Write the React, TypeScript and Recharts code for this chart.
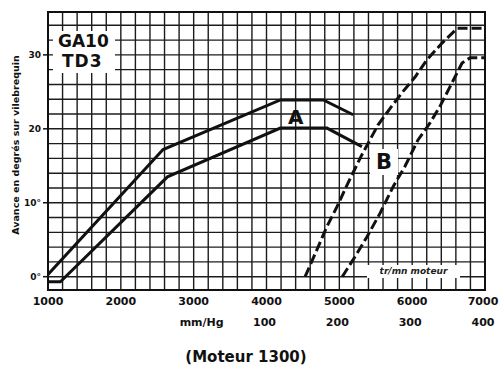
import { LineChart, Line, XAxis, YAxis, CartesianGrid, ReferenceArea } from 'recharts'

// courbe A (trait plein, haut) : tr/mn moteur -> degrés
const curveARpm = [1000, 2580, 4190, 4780, 5190]
const curveADeg = [0.3, 17.2, 23.9, 23.9, 21.9]

// courbe A (trait plein, bas)
const curveA2Rpm = [1000, 1170, 2640, 4190, 4830, 5310]
const curveA2Deg = [-0.7, -0.7, 13.5, 20.1, 20.1, 17.6]

// courbe B (tirets, gauche)
const curveBRpm = [4530, 4690, 4830, 4970, 5120, 5310, 5530, 5700, 5870, 6040, 6200, 6410, 6620, 7000]
const curveBDeg = [0, 3.6, 6.8, 9.5, 12.7, 16.5, 20.5, 22.8, 25, 27, 29.3, 31.6, 33.6, 33.6]

// courbe B (tirets, droite)
const curveB2Rpm = [5040, 5215, 5380, 5560, 5740, 5900, 6080, 6245, 6380, 6520, 6685, 6795, 7000]
const curveB2Deg = [0, 2.7, 5.4, 8.6, 12.2, 14.9, 18.5, 20.8, 23, 25.7, 28.9, 29.6, 29.6]

const gridRpm = Array.from({ length: 31 }, (_, i) => 1000 + i * 200)
const gridDeg = Array.from({ length: 18 }, (_, i) => i * 2)

const rpmLabels: Record<number, string> = { 1000: '1000', 2000: '2000', 3000: '3000', 4000: '4000', 5000: '5000', 6000: '6000', 7000: '7000' }
const vacuumLabels: Record<number, string> = { 3000: 'mm/Hg', 4000: '100', 5000: '200', 6000: '300', 7000: '400' }
const degLabels: Record<number, string> = { 0: '0°', 10: '10°', 20: '20', 30: '30' }

const toRows = (xs: number[], ys: number[]) => xs.map((rpm, i) => ({ rpm, deg: ys[i] }))

const FONT = '"DejaVu Sans", sans-serif'

const XTick = ({ x, y, payload }: any) => {
  const v = payload.value
  const top = rpmLabels[v]
  const bottom = vacuumLabels[v]
  if (!top && !bottom) return null
  return (
    <g>
      {top && (
        <text x={v === 7000 ? x - 2 : x} y={y + 15} textAnchor="middle" fontSize={11} fontWeight="bold" fill="#111" fontFamily={FONT}>
          {top}
        </text>
      )}
      {bottom && (
        <text x={v === 3000 ? x + 8 : x - 2} y={y + 36} textAnchor="middle" fontSize={11} fontWeight="bold" fill="#111" fontFamily={FONT}>
          {bottom}
        </text>
      )}
    </g>
  )
}

const YTick = ({ x, y, payload }: any) => {
  const label = degLabels[payload.value]
  if (!label) return null
  return (
    <g>
      <line x1={x - 5} x2={x} y1={y} y2={y} stroke="#111" strokeWidth={1.5} />
      <text x={x - 7} y={y + 3.5} textAnchor="end" fontSize={9} fontWeight="bold" fill="#111" fontFamily={FONT}>
        {label}
      </text>
    </g>
  )
}

export default function App() {
  return (
    <div style={{ position: 'absolute', left: 0, top: 0, width: 499, height: 369, background: '#fff', fontFamily: FONT }}>
      <LineChart width={499} height={369} margin={{ top: 12, right: 14, left: 0, bottom: 0 }}>
        <CartesianGrid stroke="#1c1c1c" strokeWidth={1.4} />
        <XAxis
          dataKey="rpm" type="number" domain={[1000, 7000]} ticks={gridRpm}
          height={79} tick={<XTick />} tickLine={false} tickSize={0} tickMargin={0}
          axisLine={false} interval={0} allowDataOverflow
        />
        <YAxis
          dataKey="deg" type="number" domain={[-1.8, 35.8]} ticks={gridDeg}
          width={48} tick={<YTick />} tickLine={false} tickSize={0} tickMargin={0}
          axisLine={false} interval={0} allowDataOverflow
        />
        <ReferenceArea x1={1000} x2={7000} y1={-1.8} y2={35.8} fill="none" stroke="#111" strokeWidth={2} ifOverflow="visible" />
        <Line data={toRows(curveARpm, curveADeg)} dataKey="deg" type="linear" stroke="#111" strokeWidth={3} dot={false} isAnimationActive={false} />
        <Line data={toRows(curveA2Rpm, curveA2Deg)} dataKey="deg" type="linear" stroke="#111" strokeWidth={3} dot={false} isAnimationActive={false} />
        <Line data={toRows(curveBRpm, curveBDeg)} dataKey="deg" type="linear" stroke="#111" strokeWidth={3} strokeDasharray="10 4" dot={false} isAnimationActive={false} />
        <Line data={toRows(curveB2Rpm, curveB2Deg)} dataKey="deg" type="linear" stroke="#111" strokeWidth={3} strokeDasharray="10 4" dot={false} isAnimationActive={false} />
      </LineChart>

      <div style={{ position: 'absolute', left: 53, top: 31, width: 62, height: 42, background: '#fff', fontWeight: 'bold', fontSize: 17, lineHeight: '20px', color: '#111', paddingLeft: 5, boxSizing: 'border-box' }}>
        <div>GA10</div>
        <div style={{ paddingLeft: 4, letterSpacing: 1 }}>TD3</div>
      </div>

      <div style={{ position: 'absolute', left: 288, top: 106, fontWeight: 'bold', fontSize: 20, lineHeight: '22px', color: '#111' }}>A</div>

      <div style={{ position: 'absolute', left: 370, top: 149, width: 28, height: 26, background: '#fff', fontWeight: 'bold', fontSize: 21, lineHeight: '26px', textAlign: 'center', color: '#111' }}>B</div>

      <div style={{ position: 'absolute', left: 367, top: 265, width: 93, height: 13, background: '#fff', fontWeight: 'bold', fontStyle: 'italic', fontSize: 9, lineHeight: '13px', textAlign: 'center', color: '#222' }}>
        tr/mn moteur
      </div>

      <div style={{ position: 'absolute', left: 15, top: 145, transform: 'translate(-50%, -50%) rotate(-90deg)', whiteSpace: 'nowrap', fontWeight: 'bold', fontSize: 9.5, color: '#111' }}>
        Avance en degrés sur vilebrequin
      </div>

      <div style={{ position: 'absolute', left: 246, top: 357, transform: 'translate(-50%, -50%)', whiteSpace: 'nowrap', fontWeight: 'bold', fontSize: 15, color: '#111' }}>
        (Moteur 1300)
      </div>
    </div>
  )
}
